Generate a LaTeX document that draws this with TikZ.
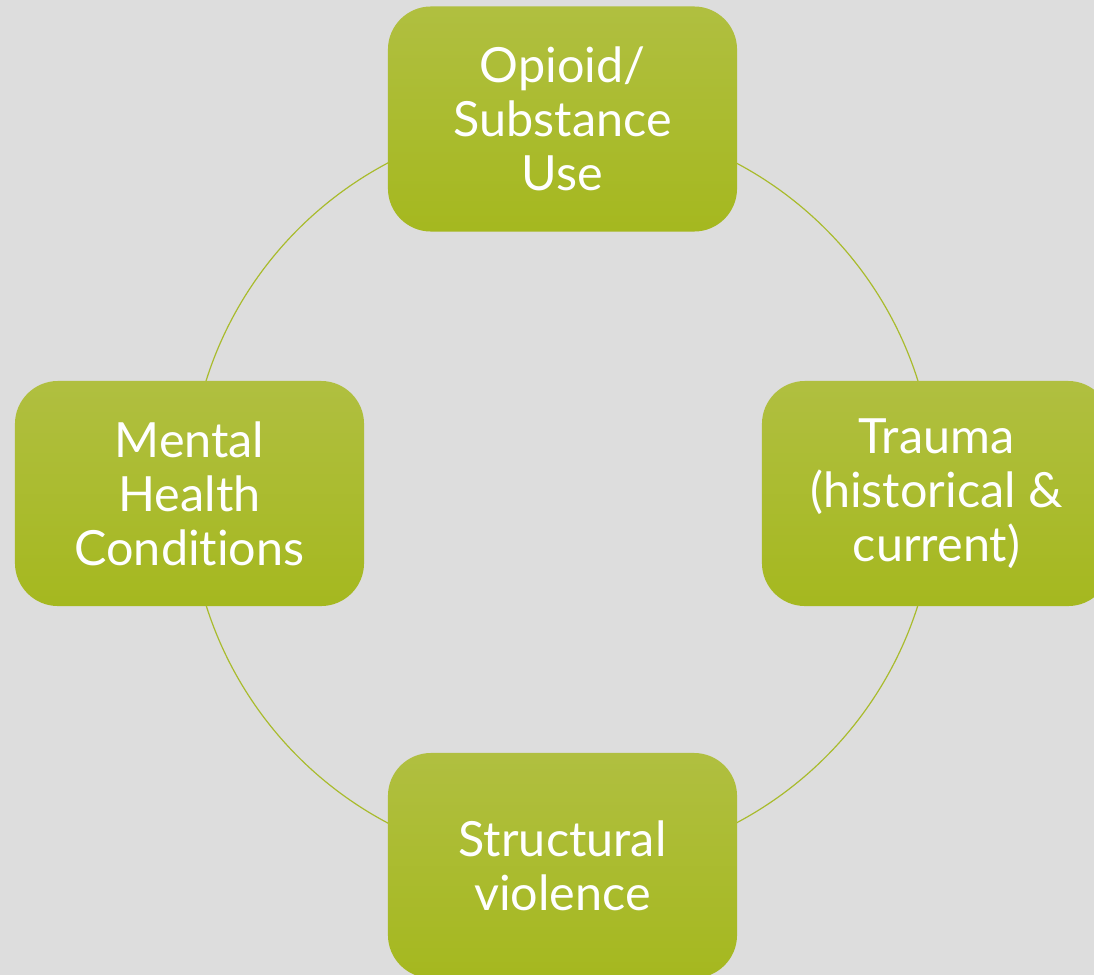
\documentclass[tikz,border=0pt]{standalone}
\usepackage{fontspec}
\setmainfont{Lato}[Ligatures={NoCommon,NoDiscretionary}]
\definecolor{bg}{HTML}{DDDDDD}
\definecolor{gtop}{HTML}{B0BF40}
\definecolor{gbot}{HTML}{A5B81F}
\definecolor{ring}{HTML}{A9BB2D}
\tikzset{
  cyclebox/.style={rectangle, rounded corners=1.075cm, minimum width=8.725cm,
    minimum height=5.625cm, top color=gtop, bottom color=gbot, draw=none,
    text=white, align=center, inner sep=0pt,
    font=\fontsize{34.5}{38.5}\selectfont},
  ringline/.style={draw=ring, line width=0.85pt}
}
\begin{document}
\begin{tikzpicture}[x=0.025cm,y=-0.025cm]
\useasboundingbox (0,0) rectangle (1094,975);
\fill[bg] (0,0) rectangle (1094,975);
\clip (0,0) rectangle (1094,975);
\coordinate (c) at (562,493);
\draw[ringline] (c) circle[radius=9.325cm];
\node[cyclebox] (top) at (562.5,119) {Opioid/\\Substance\\Use};
\node[cyclebox] (left) at (189.5,493.5) {Mental\\Health\\Condi\kern0pt tions};
\node[cyclebox] (right) at (936.5,493.5) {Trauma\\(historical \&\\current)};
\node[cyclebox] (bottom) at (562.5,865.5) {Structural\\violence};
\end{tikzpicture}
\end{document}
